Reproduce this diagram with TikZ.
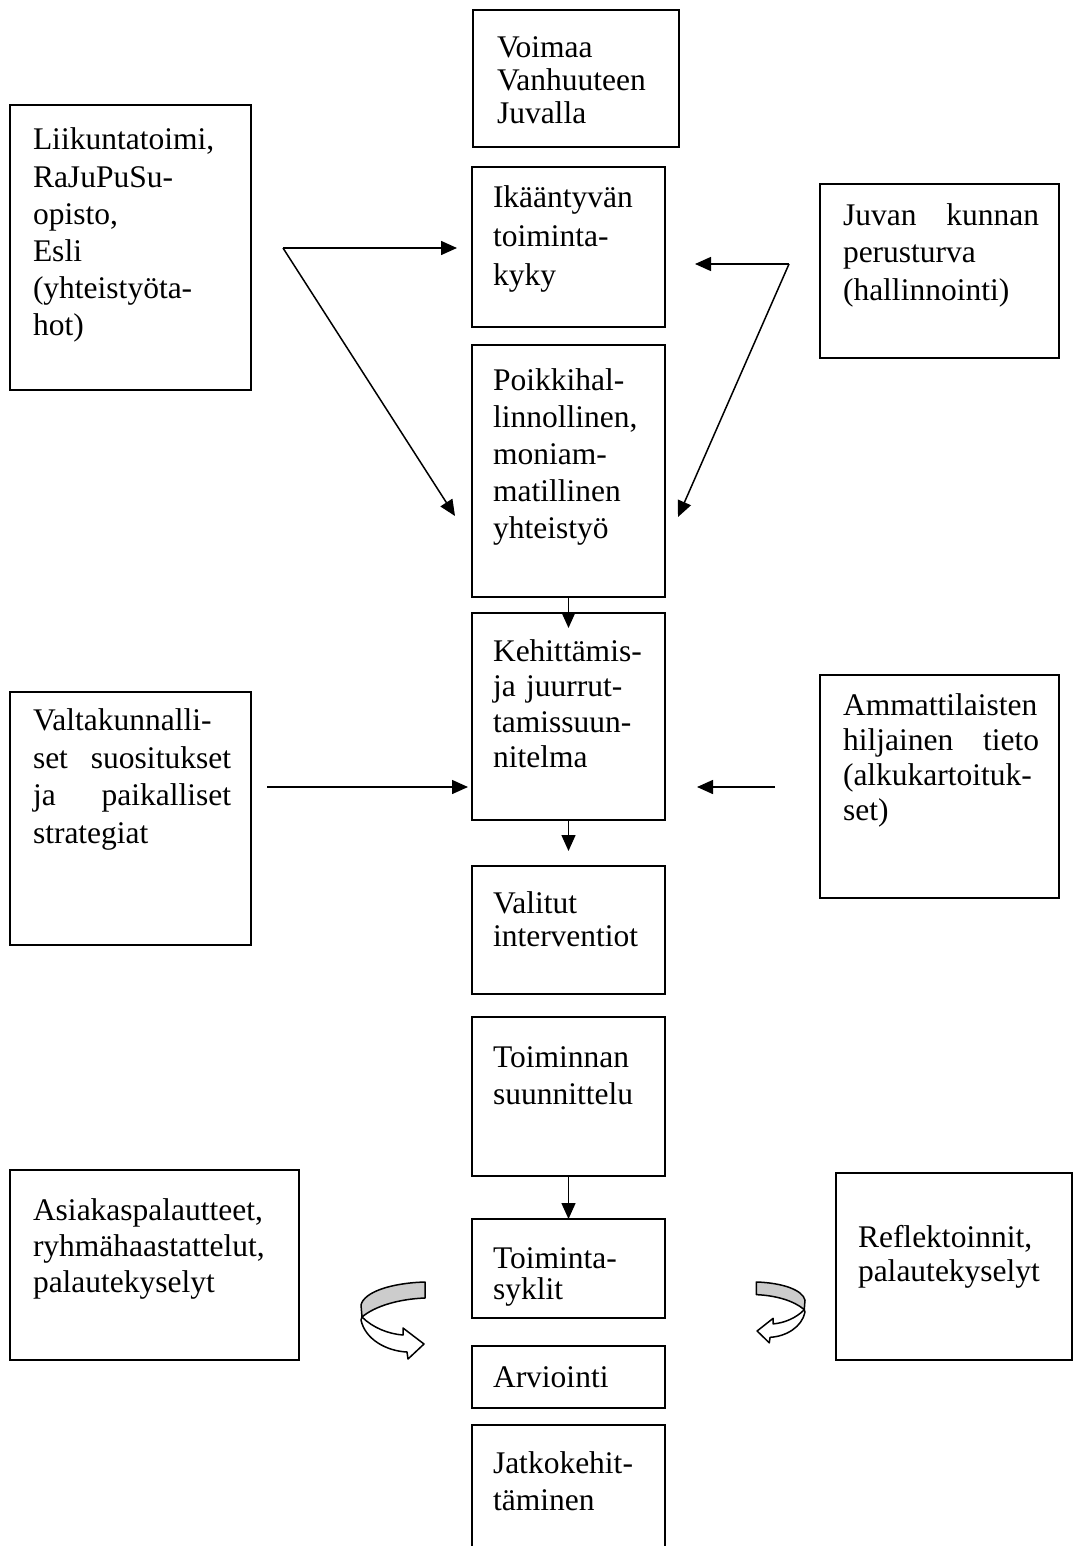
\documentclass[tikz,border=0pt]{standalone}
\usepackage{fontspec}
\setmainfont{Liberation Serif}
\usetikzlibrary{arrows.meta}
\setlength{\parindent}{0pt}
\definecolor{curlgray}{RGB}{204,204,204}
% body text size with a chosen line spacing
\newcommand\boxfont[1]{\fontsize{31.5}{#1}\selectfont}
% fixed height for the first line of every text block
\newcommand\fl{\rule{0pt}{24pt}}
% a framed panel from its top-left to its bottom-right corner
\newcommand\panel[5]{\node[frame, minimum width={#4-#2}, minimum height={#5-#3}] (#1) at (#2,#3) {};}

\begin{document}
\begin{tikzpicture}[x=1pt,y=-1pt,
  frame/.style={draw, line width=1.8pt, inner sep=0pt, outer sep=0pt, anchor=north west},
  txt/.style={anchor=north west, inner sep=0pt, outer sep=0pt, align=left, text width=#1},
  txt/.default=260,
  link/.style={line width=1.5pt, -{Triangle[length=16pt,width=14pt]}},
  curl/.style={line width=1.5pt, line join=round}]

\useasboundingbox (0,0) rectangle (1074,1546);

% central column
\panel{voimaa}{473}{10}{679}{147}
\panel{ikaant}{472}{167}{665}{327}
\panel{poikki}{472}{345}{665}{597}
\panel{kehit}{472}{613}{665}{820}
\panel{valitut}{472}{866}{665}{994}
\panel{toiminnan}{472}{1017}{665}{1176}
\panel{sykli}{472}{1219}{665}{1318}
\panel{arvio}{472}{1346}{665}{1408}
\node[anchor=north west, inner sep=0pt, outer sep=0pt, minimum width=193, minimum height=126] (jatko) at (472,1425) {};
\draw[line width=1.8pt] (jatko.south west) -- (jatko.north west) -- (jatko.north east) -- (jatko.south east);

% side panels
\panel{liikunta}{10}{105}{251}{390}
\panel{valtak}{10}{692}{251}{945}
\panel{asiakas}{10}{1170}{299}{1360}
\panel{juvan}{820}{184}{1059}{358}
\panel{ammatti}{820}{675}{1059}{898}
\panel{reflekt}{836}{1173}{1072}{1360}

% texts
\node[txt, font=\boxfont{33}] (voimaaT) at (497,34) {\fl Voimaa\\Vanhuuteen\\Juvalla};
\node[txt, font=\boxfont{39}] (ikaantT) at (493,183.5) {\fl Ikääntyvän\\toiminta-\\kyky};
\node[txt, font=\boxfont{37}] (poikkiT) at (493,366) {\fl Poikkihal-\\linnollinen,\\moniam-\\matillinen\\yhteistyö};
\node[txt, font=\boxfont{35.5}] (kehitT) at (493,637) {\fl Kehittämis-\\ja juurrut-\\tamissuun-\\nitelma};
\node[txt, font=\boxfont{33}] (valitutT) at (493,889) {\fl Valitut\\interventiot};
\node[txt, font=\boxfont{37}] (toiminnanT) at (493,1043) {\fl Toiminnan\\suunnittelu};
\node[txt, font=\boxfont{31}] (sykliT) at (493,1244) {\fl Toiminta-\\syklit};
\node[txt, font=\boxfont{37}] (arvioT) at (493,1363) {\fl Arviointi};
\node[txt, font=\boxfont{37.5}] (jatkoT) at (493,1449) {\fl Jatkokehit-\\täminen};

\node[txt, font=\boxfont{37.2}] (liikuntaT) at (33,126) {\fl Liikuntatoimi,\\RaJuPuSu-\\opisto,\\Esli\\(yhteistyöta-\\hot)};
\node[txt=198, font=\boxfont{37.5}] (valtakT) at (33,706.5) {\fl Valtakunnalli-\\set\hfill suositukset\\ja\hfill paikalliset\\strategiat};
\node[txt, font=\boxfont{36}] (asiakasT) at (33,1196) {\fl Asiakaspalautteet,\\ryhmähaastattelut,\\palautekyselyt};
\node[txt=196, font=\boxfont{37.5}] (juvanT) at (843,201.5) {\fl Juvan\hfill kunnan\\perusturva\\(hallinnointi)};
\node[txt=196, font=\boxfont{35.3}] (ammattiT) at (843,691) {\fl Ammattilaisten\\hiljainen\hfill tieto\\(alkukartoituk-\\set)};
\node[txt, font=\boxfont{34}] (reflektT) at (858,1223) {\fl Reflektoinnit,\\palautekyselyt};

% connector end points
\coordinate (forkL) at (283,248);
\coordinate (ikIn) at (457,248);
\coordinate (poIn) at (455,516);
\coordinate (forkR) at (789,264);
\coordinate (ikInR) at (695,264);
\coordinate (poInR) at (678,517);
\coordinate (kehitIn) at (568.5,628);
\coordinate (valitutIn) at (568.5,851);
\coordinate (vStart) at (267,787);
\coordinate (kehitInL) at (468,787);
\coordinate (aStart) at (775,787);
\coordinate (kehitInR) at (697,787);

% connectors
\draw[link] (forkL) -- (ikIn);
\draw[link] (forkL) -- (poIn);
\draw[link] (forkR) -- (ikInR);
\draw[link] (forkR) -- (poInR);
\draw[link] (poikki.south) -- (kehitIn);
\draw[link] (kehit.south) -- (valitutIn);
\draw[link] (toiminnan.south) -- (sykli.north);
\draw[link] (vStart) -- (kehitInL);
\draw[link] (aStart) -- (kehitInR);

% turning arrow, left of the cycle
\begin{scope}[shift={(361,1282)}]
  \filldraw[curl, fill=curlgray] (64,0) .. controls (30,1) and (3,10) .. (0,23)
    -- (1,35) .. controls (14,24) and (38,17) .. (64,16) -- cycle;
  \filldraw[curl, fill=white] (1,35) .. controls (12,46) and (28,52) .. (42,53)
    -- (42,46) -- (63,62) -- (47,77) -- (46,70)
    .. controls (25,69) and (4,57) .. (0,38) -- cycle;
\end{scope}

% turning arrow, right of the cycle
\begin{scope}[shift={(805,1282)}, xscale=-0.76, yscale=0.79]
  \filldraw[curl, fill=curlgray] (64,0) .. controls (30,1) and (3,10) .. (0,23)
    -- (1,35) .. controls (14,24) and (38,17) .. (64,16) -- cycle;
  \filldraw[curl, fill=white] (1,35) .. controls (12,46) and (28,52) .. (42,53)
    -- (42,46) -- (63,62) -- (47,77) -- (46,70)
    .. controls (25,69) and (4,57) .. (0,38) -- cycle;
\end{scope}

\end{tikzpicture}
\end{document}
